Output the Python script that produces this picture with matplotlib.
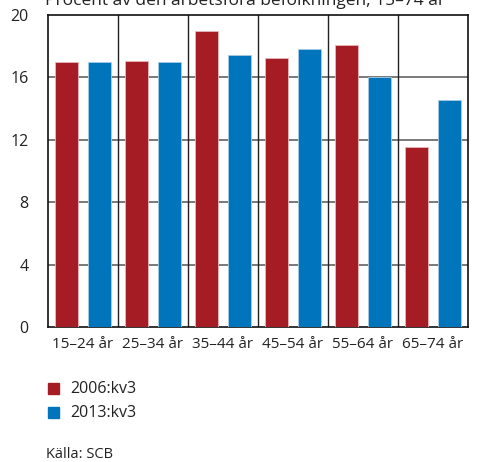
import matplotlib
matplotlib.use("Agg")
import matplotlib.pyplot as plt
import numpy as np
from matplotlib.patches import Rectangle

categories = ["15–24 år", "25–34 år", "35–44 år", "45–54 år", "55–64 år", "65–74 år"]
series_2006 = [17.0, 17.05, 19.0, 17.25, 18.05, 11.55]
series_2013 = [17.0, 17.0, 17.45, 17.8, 16.05, 14.55]
series_names = ["2006:kv3", "2013:kv3"]
yticks = [0, 4, 8, 12, 16, 20]

RED = "#A51C24"
BLUE = "#0075BB"

plt.rcParams['font.family'] = ['Open Sans', 'DejaVu Sans']

fig = plt.figure(figsize=(4.78, 4.62), dpi=100)
W, H = 478, 462
ax = fig.add_axes([48 / W, 1 - 327 / H, 420 / W, 312 / H])

x = np.arange(len(categories))
w = 0.335
off = 0.236
ax.bar(x - off, series_2006, w, color=RED, edgecolor="#e8b8bb", linewidth=0.6, zorder=3)
ax.bar(x + off, series_2013, w, color=BLUE, edgecolor="#a8cde8", linewidth=0.6, zorder=3)

ax.set_xlim(-0.5, len(categories) - 0.5)
ax.set_ylim(0, 20)
ax.set_yticks(yticks)
ax.set_xticks(x)
ax.set_xticklabels(categories)
ax.tick_params(axis='x', length=0, labelsize=11, colors="#222222", pad=7)
ax.tick_params(axis='y', length=0, labelsize=11.5, colors="#222222", pad=14)

for yv in yticks[1:-1]:
    ax.axhline(yv, color="#6e6e6e", linewidth=1.3, zorder=1)
for xv in np.arange(0.5, len(categories) - 0.5, 1):
    ax.axvline(xv, color="#222222", linewidth=1.0, zorder=1)
for s in ax.spines.values():
    s.set_color("#111111")
    s.set_linewidth(1.2)

fig.text(45 / W, 1 - 5 / H, "Procent av den arbetsföra befolkningen, 15–74 år",
         fontsize=12.5, ha='left', va='baseline', color="#222222")

# legend
for i, (name, col) in enumerate(zip(series_names, [RED, BLUE])):
    yc = 389 + i * 24
    fig.patches.append(Rectangle((48 / W, 1 - (yc + 5) / H), 11 / W, 11 / H,
                                 transform=fig.transFigure, color=col, figure=fig))
    fig.text(70 / W, 1 - yc / H, name, fontsize=11.5, ha='left', va='center', color="#222222")

fig.text(46 / W, 1 - 455 / H, "Källa: SCB", fontsize=10.5, ha='left', va='center', color="#222222")

fig.savefig("out.png", dpi=100)
